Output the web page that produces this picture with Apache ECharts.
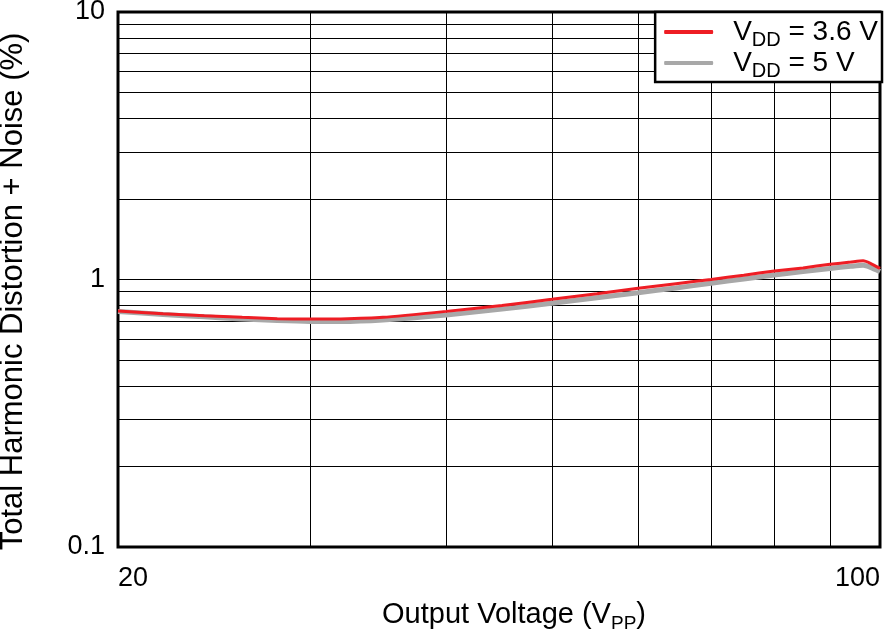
<!DOCTYPE html>
<html><head><meta charset="utf-8">
<script src="https://cdn.jsdelivr.net/npm/echarts@6/dist/echarts.min.js"></script>
<style>html,body{margin:0;padding:0;background:#fff}#c{width:896px;height:632px}</style>
</head><body><div id="c"></div>
<script>
// Output voltage (Vpp)
const xValues = [20, 22, 24, 26, 28, 30, 32, 35, 40, 45, 50, 55, 60, 65, 70, 75, 80, 85, 90, 94, 96.5, 98, 100];
// THD+N (%) for VDD = 3.6 V
const thd36 = [0.762, 0.745, 0.732, 0.722, 0.714, 0.711, 0.712, 0.722, 0.760, 0.800, 0.843, 0.885, 0.927, 0.965, 1.000, 1.038, 1.076, 1.105, 1.140, 1.162, 1.175, 1.150, 1.100];
// THD+N (%) for VDD = 5 V
const thd5 = [0.760, 0.740, 0.725, 0.712, 0.702, 0.697, 0.697, 0.706, 0.737, 0.775, 0.815, 0.855, 0.893, 0.930, 0.968, 1.005, 1.040, 1.070, 1.100, 1.120, 1.130, 1.110, 1.070];
const xGridValues = [30, 40, 50, 60, 70, 80, 90];
const yGridValues = [0.2, 0.3, 0.4, 0.5, 0.6, 0.7, 0.8, 0.9, 2, 3, 4, 5, 6, 7, 8, 9];
const xTickLabels = [20, 100];
const yTickLabels = [0.1, 1, 10];
const seriesNames = ['VDD = 3.6 V', 'VDD = 5 V'];
const legendRich = {
  'VDD = 3.6 V': '{v|V}{sub|DD}{v| = 3.6 V}',
  'VDD = 5 V': '{v|V}{sub|DD}{v| = 5 V}'
};

const FONT = 'Liberation Sans, Arial, sans-serif';
const chart = echarts.init(document.getElementById('c'), null, {renderer: 'canvas'});
const pair = (ys) => xValues.map((x, i) => [x, ys[i]]);

const option = {
  animation: false,
  backgroundColor: '#fff',
  textStyle: {fontFamily: FONT, color: '#000'},
  grid: {left: 118, right: 16, top: 12, bottom: 85, show: true, borderColor: '#000', borderWidth: 3,
         backgroundColor: 'transparent', containLabel: false, outerBoundsMode: 'none'},
  legend: {
    data: seriesNames,
    orient: 'vertical',
    right: 14, top: 12,
    backgroundColor: '#fff',
    borderColor: '#000', borderWidth: 2.5,
    padding: [6, 4, 1, 9],
    itemGap: -1,
    itemWidth: 49, itemHeight: 4,
    icon: 'roundRect',
    formatter: (name) => legendRich[name],
    textStyle: {
      fontFamily: FONT, color: '#000', padding: [0, 0, 0, 15],
      rich: {
        v: {fontSize: 28, fontFamily: FONT, color: '#000', lineHeight: 30},
        sub: {fontSize: 20, fontFamily: FONT, color: '#000', padding: [16, 0, 0, 0]}
      }
    }
  },
  xAxis: {
    type: 'log', logBase: 10, min: 20, max: 100,
    name: 'Output Voltage (V{sub|PP})',
    nameLocation: 'middle', nameGap: 50,
    nameTextStyle: {
      fontFamily: FONT, color: '#000', fontSize: 29, padding: [0, 0, 0, 30],
      rich: {sub: {fontSize: 19, fontFamily: FONT, color: '#000', padding: [17, 0, 0, 0]}}
    },
    axisLine: {show: false},
    axisTick: {show: false},
    splitLine: {show: false},
    axisLabel: {
      customValues: xTickLabels,
      fontSize: 27, fontFamily: FONT, color: '#000', margin: 18,
      alignMinLabel: 'left', alignMaxLabel: 'right',
      formatter: (v) => String(Math.round(v))
    }
  },
  yAxis: {
    type: 'log', logBase: 10, min: 0.1, max: 10,
    name: 'Total Harmonic Distortion + Noise (%)',
    nameLocation: 'middle', nameGap: 89,
    nameTextStyle: {fontFamily: FONT, color: '#000', fontSize: 31, padding: [0, 24, 0, 0]},
    axisLine: {show: false},
    axisTick: {show: false},
    splitLine: {show: true, lineStyle: {color: '#000', width: 1}},
    axisLabel: {
      customValues: yTickLabels,
      fontSize: 27, fontFamily: FONT, color: '#000', margin: 13,
      formatter: (v) => (v < 1 ? String(v) : String(Math.round(v)))
    }
  },
  series: [
    {
      name: seriesNames[1], type: 'line', data: pair(thd5), showSymbol: false, symbol: 'none', z: 2,
      smooth: 0.2,
      lineStyle: {color: '#a8a8a8', width: 5},
      itemStyle: {color: '#a8a8a8'},
      markLine: {
        silent: true, symbol: ['none', 'none'], z: 1, animation: false,
        label: {show: false},
        lineStyle: {color: '#000', width: 1, type: 'solid'},
        emphasis: {disabled: true},
        data: xGridValues.map(v => ({xAxis: v})).concat(yGridValues.map(v => ({yAxis: v})))
      }
    },
    {
      name: seriesNames[0], type: 'line', data: pair(thd36), showSymbol: false, symbol: 'none', z: 3,
      smooth: 0.2,
      lineStyle: {color: '#ee1d24', width: 3},
      itemStyle: {color: '#ee1d24'}
    }
  ]
};
chart.setOption(option);
</script>
</body></html>
